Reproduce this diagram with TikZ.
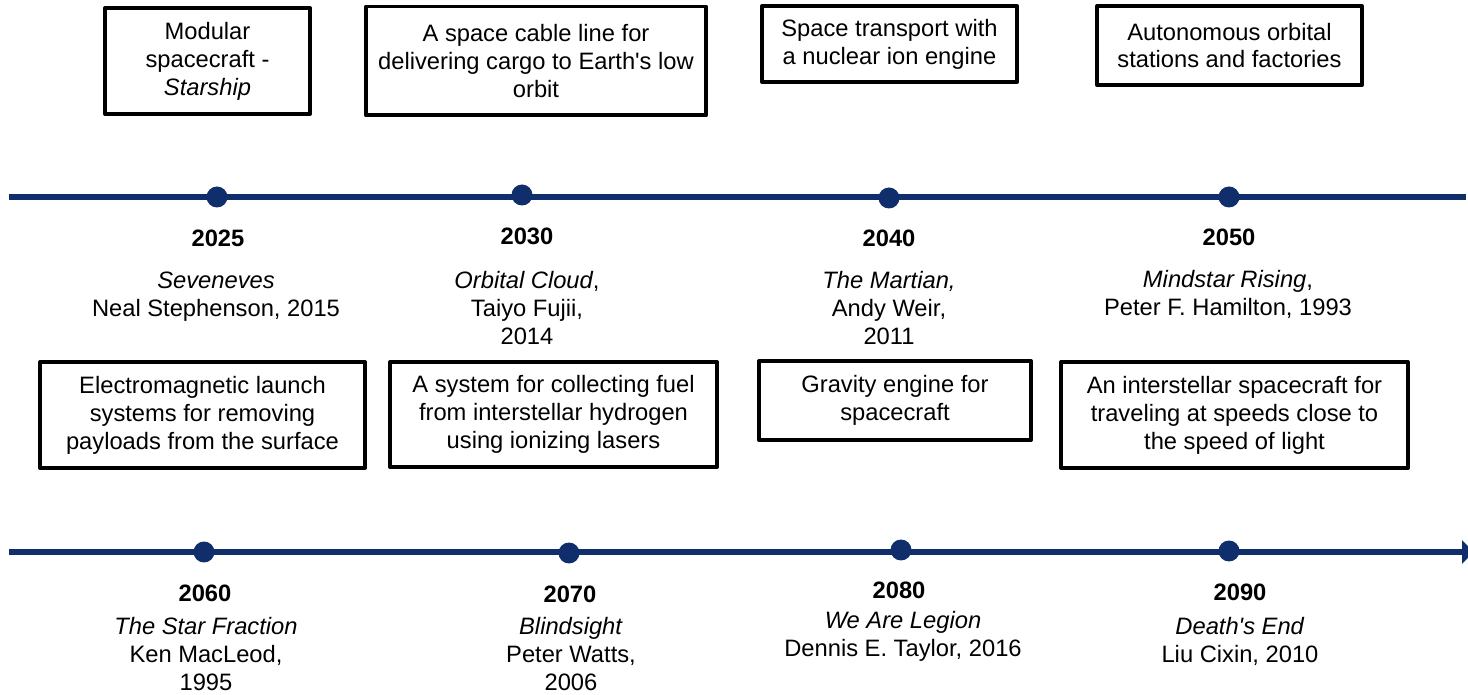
\documentclass[tikz,border=0pt]{standalone}
\usepackage{fontspec}
\setmainfont{Liberation Sans}
\usetikzlibrary{arrows.meta}
\definecolor{mynavy}{RGB}{16,46,107}
\newcommand\boxfont{\fontsize{13.5}{15.9}\selectfont}

\begin{document}
\begin{tikzpicture}[
    x=0.02cm,y=-0.02cm,
    tline/.style={mynavy,line width=3.4pt},
    dot/.style={circle,fill=mynavy,inner sep=0pt,minimum size=0.42cm},
    year/.style={font=\boxfont\bfseries},
    book/.style={font=\boxfont,align=center,inner sep=0pt},
    idea/.style 2 args={draw=black,line width=2.27pt,line join=round,
                        font=\boxfont,align=center,inner sep=2pt,
                        minimum width=#1cm,minimum height=#2cm},
  ]
  \useasboundingbox (0,0) rectangle (1468,695);

  % TIMELINES
  \coordinate (top0) at (9,197);
  \coordinate (top1) at (1466,197);
  \coordinate (bot0) at (9,552);
  \coordinate (bot1) at (1474,552);
  \draw[tline] (top0) -- (top1);
  \draw[tline,-{Triangle[length=6.8pt,width=13pt]}] (bot0) -- (bot1);

  % POINTS AND YEARS
  \foreach \yr/\xd/\yd/\xl/\yl in {2025/217/197/218/238, 2030/522/195/527/236,
                                   2040/889/198/889/238, 2050/1229/197/1229/237,
                                   2060/204/552/205/593, 2070/569/553/570/594,
                                   2080/901/550/899/590, 2090/1229/551/1240/592}{
    \node[dot] (d\yr) at (\xd,\yd) {};
    \node[year] (y\yr) at (\xl,\yl) {\yr};
  }

  % BOOKS
  \node[book] (bk2025) at (216,296.5) {\textit{Seveneves}\\Neal Stephenson, 2015};
  \node[book] (bk2030) at (527,308) {\textit{Orbital Cloud},\\Taiyo Fujii,\\2014};
  \node[book] (bk2040) at (889,308) {\textit{The Martian,}\\Andy Weir,\\2011};
  \node[book] (bk2050) at (1228,294.5) {\textit{Mindstar Rising},\\Peter F. Hamilton, 1993};
  \node[book] (bk2060) at (206,654) {\textit{The Star Fraction}\\Ken MacLeod,\\1995};
  \node[book] (bk2070) at (571,654) {\textit{Blindsight}\\Peter Watts,\\2006};
  \node[book] (bk2080) at (903,636) {\textit{We Are Legion}\\Dennis E. Taylor, 2016};
  \node[book] (bk2090) at (1240,641) {\textit{Death\textquotesingle s End}\\Liu Cixin, 2010};

  % IDEAS ABOVE THE FIRST LINE
  \node[idea={4.10}{2.12}] (idea1) at (207.5,61) {Modular\\spacecraft -\\\textit{Starship}};
  \node[idea={6.80}{2.18}] (idea2) at (536,61) {A space cable line for\\delivering cargo to Earth\textquotesingle s low\\orbit};
  \node[idea={5.10}{1.52}] (idea3) at (889.5,44) {Space transport with\\a nuclear ion engine};
  \node[idea={5.30}{1.58}] (idea4) at (1229.5,45.5) {Autonomous orbital\\stations and factories};

  % IDEAS BETWEEN THE LINES
  \node[idea={6.50}{2.12}] (idea5) at (202.5,415) {Electromagnetic launch\\systems for removing\\payloads from the surface};
  \node[idea={6.54}{2.10}] (idea6) at (553.5,414.5) {A system for collecting fuel\\from interstellar hydrogen\\using ionizing lasers};
  \node[idea={5.44}{1.58}] (idea7) at (895,400.5) {Gravity engine for\\spacecraft};
  \node[idea={6.94}{2.12}] (idea8) at (1234.5,415) {An interstellar spacecraft for\\traveling at speeds close to\\the speed of light};

\end{tikzpicture}
\end{document}
